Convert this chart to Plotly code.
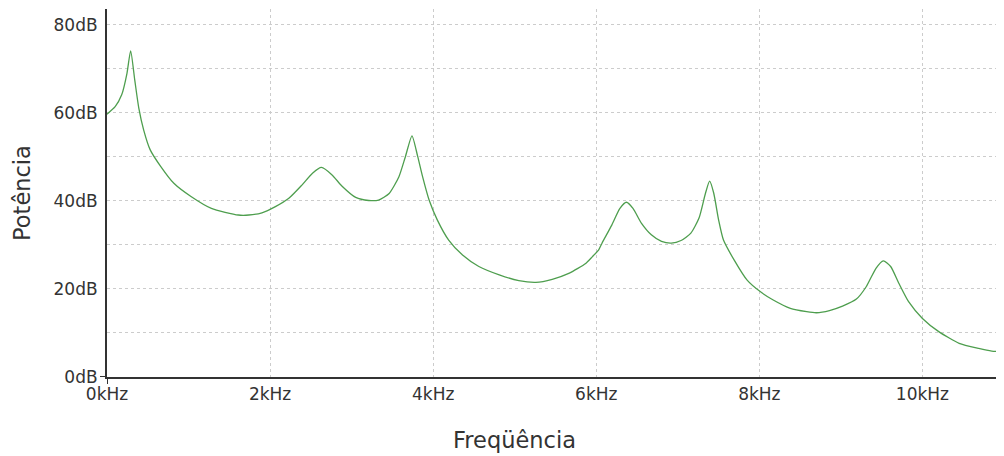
import plotly.graph_objects as go

# spectrum envelope
freq_khz = [0.0, 0.1, 0.18, 0.245, 0.29, 0.34, 0.39, 0.45, 0.53, 0.66, 0.82, 1.03, 1.28, 1.61, 1.74,
            1.9, 2.065, 2.23, 2.39, 2.52, 2.63, 2.76, 2.88, 3.05, 3.21, 3.33, 3.46, 3.58, 3.66, 3.74,
            3.81, 3.87, 3.95, 4.05, 4.19, 4.36, 4.56, 4.81, 5.05, 5.26, 5.46, 5.67, 5.87, 5.95, 6.03,
            6.07, 6.19, 6.29, 6.37, 6.45, 6.555, 6.675, 6.8, 6.92, 7.04, 7.16, 7.26, 7.34, 7.39, 7.44,
            7.5, 7.56, 7.69, 7.85, 8.01, 8.17, 8.38, 8.58, 8.7, 8.86, 9.02, 9.19, 9.31, 9.43, 9.52,
            9.61, 9.71, 9.83, 10.0, 10.2, 10.45, 10.69, 10.85, 10.98]
power_db = [59.7, 61.4, 64.1, 69.0, 74.1, 67.5, 61.1, 56.1, 51.6, 47.8, 44.0, 41.0, 38.3, 36.8, 36.8,
            37.3, 38.7, 40.6, 43.6, 46.3, 47.6, 45.9, 43.4, 40.8, 40.1, 40.2, 41.7, 45.5, 50.1, 54.8,
            50.1, 45.5, 40.2, 35.7, 31.1, 27.7, 25.1, 23.2, 21.9, 21.5, 22.2, 23.6, 25.8, 27.3, 28.9,
            30.4, 34.5, 38.3, 39.7, 38.3, 34.9, 32.3, 30.8, 30.4, 31.0, 32.7, 36.1, 41.8, 44.5, 41.8,
            35.7, 31.1, 26.6, 22.0, 19.4, 17.5, 15.6, 14.85, 14.6, 15.1, 16.1, 17.7, 20.5, 24.7, 26.4,
            25.1, 21.3, 17.1, 13.3, 10.3, 7.66, 6.5, 5.9, 5.75]

x_ticks = [0, 2, 4, 6, 8, 10]
x_labels = ["0kHz", "2kHz", "4kHz", "6kHz", "8kHz", "10kHz"]
y_ticks = [0, 20, 40, 60, 80]
y_labels = ["0dB", "20dB", "40dB", "60dB", "80dB"]

font = "DejaVu Sans"
txt = "#333333"

fig = go.Figure()
fig.add_trace(go.Scatter(x=freq_khz, y=power_db, mode="lines",
                         line=dict(color="#4e9e4e", width=1.3, shape="spline", smoothing=0.6),
                         showlegend=False, hoverinfo="skip"))

# page body has an 8px margin, so the figure is a bit smaller than the window
fig.update_layout(
    width=996, height=448,
    margin=dict(l=99, r=0, t=1, b=79, autoexpand=False),
    paper_bgcolor="white", plot_bgcolor="white",
    font=dict(family=font, color=txt),
)
fig.update_xaxes(range=[0, 11], tickvals=x_ticks, ticktext=x_labels, automargin=False,
                 tickfont=dict(size=17, family=font, color=txt),
                 showline=True, linecolor="#333333", linewidth=2,
                 showgrid=True, gridcolor="#cccccc", griddash="3px,3px", gridwidth=1,
                 zeroline=False, ticks="", ticklabelstandoff=1)
fig.update_yaxes(range=[0, 83.6], tickvals=y_ticks, ticktext=y_labels, automargin=False,
                 tickfont=dict(size=17, family=font, color=txt),
                 showline=True, linecolor="#333333", linewidth=2,
                 showgrid=True, gridcolor="#cccccc", griddash="3px,3px", gridwidth=1,
                 minor=dict(dtick=10, showgrid=True, gridcolor="#cccccc", griddash="3px,3px", gridwidth=1),
                 zeroline=False, ticks="", ticklabelstandoff=4)

# little overhang where the two axes cross
fig.add_shape(type="line", xref="paper", xsizemode="pixel", xanchor=0, x0=-7, x1=0,
              yref="y", y0=0, y1=0, line=dict(color="#333333", width=2))
fig.add_shape(type="line", yref="paper", ysizemode="pixel", yanchor=0, y0=-7, y1=0,
              xref="x", x0=0, x1=0, line=dict(color="#333333", width=2))

# axis titles
fig.add_annotation(text="Freqüência", xref="paper", yref="paper", x=0.454, y=-0.171,
                   xanchor="center", yanchor="middle", showarrow=False,
                   font=dict(size=22.5, family=font, color=txt))
fig.add_annotation(text="Potência", xref="paper", yref="paper", x=-0.0948, y=0.5,
                   xanchor="center", yanchor="middle", textangle=-90, showarrow=False,
                   font=dict(size=22.5, family=font, color=txt))

fig.write_html("out.html")
